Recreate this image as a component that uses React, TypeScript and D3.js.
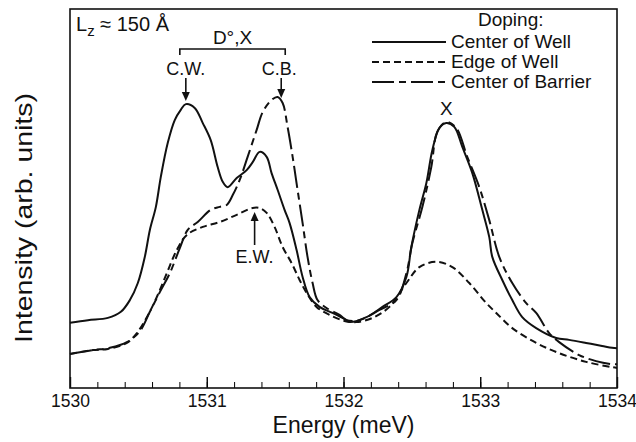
import React, { useEffect, useRef } from "react";
import * as d3 from "d3";

// energy (meV) and intensity (arb. units, 0-100)
const wellEnergy = [
  1530.0, 1530.131, 1530.277, 1530.372, 1530.438, 1530.496, 1530.547, 1530.584, 1530.628, 1530.664,
  1530.715, 1530.766, 1530.81, 1530.847, 1530.912, 1530.971, 1531.029, 1531.08, 1531.117, 1531.153,
  1531.219, 1531.292, 1531.336, 1531.387, 1531.438, 1531.474, 1531.518, 1531.569, 1531.606, 1531.657,
  1531.701, 1531.752, 1531.825, 1531.92, 1532.022, 1532.044, 1532.168, 1532.285, 1532.387, 1532.46,
  1532.496, 1532.555, 1532.606, 1532.65, 1532.701, 1532.752, 1532.81, 1532.869, 1532.942, 1533.015,
  1533.066, 1533.088, 1533.161, 1533.234, 1533.307, 1533.409, 1533.555, 1533.65, 1533.774, 1533.891,
  1533.964, 1534.0,
];
const wellIntensity = [
  17.2, 17.9, 18.5, 20.1, 23.2, 27.7, 34.6, 41.7, 47.8, 55.7,
  64.7, 70.7, 73.4, 74.9, 73.9, 69.9, 65.4, 58.3, 54.4, 53.0,
  55.4, 57.5, 59.6, 62.3, 61.0, 56.7, 52.3, 47.0, 43.5, 36.4,
  29.3, 24.0, 21.4, 19.8, 17.9, 17.4, 18.7, 21.4, 24.0, 29.3,
  37.2, 47.0, 54.1, 62.8, 68.6, 69.9, 68.9, 63.6, 56.7, 47.0,
  39.8, 34.6, 28.5, 23.2, 18.7, 15.8, 13.2, 12.7, 11.9, 11.1,
  10.6, 10.5,
];

const edgeEnergy = [
  1530.0, 1530.168, 1530.277, 1530.416, 1530.489, 1530.562, 1530.635, 1530.708, 1530.781, 1530.854,
  1530.971, 1531.095, 1531.219, 1531.336, 1531.387, 1531.438, 1531.496, 1531.555, 1531.62, 1531.679,
  1531.73, 1531.803, 1531.898, 1532.007, 1532.095, 1532.212, 1532.336, 1532.46, 1532.555, 1532.679,
  1532.796, 1532.92, 1533.044, 1533.117, 1533.234, 1533.409, 1533.577, 1533.774, 1533.964, 1534.0,
];
const edgeIntensity = [
  9.0, 10.0, 10.3, 11.9, 14.5, 18.7, 24.0, 30.3, 36.4, 40.4,
  42.5, 43.8, 45.7, 47.5, 47.5, 46.2, 42.5, 37.2, 33.0, 28.5,
  25.1, 21.4, 19.3, 17.7, 17.4, 18.5, 21.4, 27.7, 31.9, 33.3,
  31.9, 27.7, 22.4, 19.8, 15.8, 11.9, 9.2, 6.9, 5.5, 5.3,
];

const barrierEnergy = [
  1530.0, 1530.168, 1530.292, 1530.416, 1530.511, 1530.584, 1530.657, 1530.73, 1530.803, 1530.861,
  1530.934, 1531.029, 1531.095, 1531.146, 1531.19, 1531.241, 1531.299, 1531.365, 1531.409, 1531.474,
  1531.518, 1531.555, 1531.591, 1531.628, 1531.664, 1531.701, 1531.737, 1531.774, 1531.81, 1531.876,
  1531.971, 1532.022, 1532.117, 1532.263, 1532.387, 1532.46, 1532.504, 1532.577, 1532.642, 1532.686,
  1532.752, 1532.825, 1532.905, 1532.993, 1533.066, 1533.139, 1533.234, 1533.336, 1533.409, 1533.504,
  1533.577, 1533.723, 1533.847, 1533.964, 1534.0,
];
const barrierIntensity = [
  9.0, 10.0, 10.6, 12.1, 15.0, 20.1, 25.3, 30.3, 36.9, 41.7,
  43.8, 47.0, 47.8, 48.3, 50.9, 54.9, 61.0, 68.1, 72.8, 76.0,
  76.8, 75.2, 68.9, 61.0, 52.3, 43.5, 34.6, 27.7, 23.2, 21.1,
  19.3, 17.9, 17.9, 20.6, 23.2, 30.3, 38.3, 47.8, 58.3, 67.6,
  70.2, 68.6, 61.0, 53.0, 44.3, 34.6, 27.7, 22.4, 19.8, 14.5,
  12.1, 8.7, 7.1, 6.3, 6.3,
];

const legendLabels = ["Center of Well", "Edge of Well", "Center of Barrier"];
const majorTicks = [1530, 1531, 1532, 1533, 1534];

const W = 636;
const H = 442;
const margin = { top: 9, right: 19, bottom: 54, left: 70 };
const innerW = W - margin.left - margin.right;
const innerH = H - margin.top - margin.bottom;
const font = "'Liberation Sans', Arial, Helvetica, sans-serif";

const dashes = ["none", "7,4", "22,5,7,5"];

const App = () => {
  const axisRef = useRef<SVGGElement>(null);

  const x = d3.scaleLinear().domain([1530, 1534]).range([0, innerW]);
  const y = d3.scaleLinear().domain([0, 100]).range([innerH, 0]);

  const series = [
    wellEnergy.map((e, i) => [e, wellIntensity[i]]),
    edgeEnergy.map((e, i) => [e, edgeIntensity[i]]),
    barrierEnergy.map((e, i) => [e, barrierIntensity[i]]),
  ];

  const line = d3
    .line<number[]>()
    .x((d) => x(d[0]))
    .y((d) => y(d[1]))
    .curve(d3.curveCatmullRom.alpha(0.5));

  useEffect(() => {
    const g = d3.select(axisRef.current);
    g.selectAll("*").remove();

    // minor ticks every 0.2 meV, pointing inward
    g.append("g")
      .attr("transform", `translate(0,${innerH})`)
      .call(d3.axisBottom(x).tickValues(d3.range(1530, 1534.01, 0.2)).tickSize(-6).tickFormat(() => ""))
      .call((a) => a.select(".domain").remove());

    const major = g
      .append("g")
      .attr("transform", `translate(0,${innerH})`)
      .call(d3.axisBottom(x).tickValues(majorTicks).tickSize(-11).tickPadding(7).tickFormat(d3.format("d")));
    major.select(".domain").remove();
    major.selectAll("line").attr("stroke-width", 1.4);
    major
      .selectAll("text")
      .style("font-family", font)
      .style("font-size", "17.5px")
      .attr("fill", "#111");
  }, []);

  const CW = x(1530.847);
  const CB = x(1531.53);
  const EW = x(1531.35);
  const XP = x(1532.752);

  return (
    <svg width={W} height={H} style={{ position: "absolute", left: 0, top: 0, background: "#fff" }} fontFamily={font}>
      <g transform={`translate(${margin.left},${margin.top})`}>
        <g ref={axisRef} />
        <rect x={0} y={0} width={innerW} height={innerH} fill="none" stroke="#111" strokeWidth={1.6} />

        {series.map((s, i) => (
          <path
            key={i}
            d={line(s) || ""}
            fill="none"
            stroke="#111"
            strokeWidth={2}
            strokeDasharray={dashes[i]}
            strokeLinejoin="round"
          />
        ))}

        {/* thickness label */}
        <text x={6} y={22} fontSize={20} fill="#111">
          L<tspan fontSize={15} dy={5}>z</tspan>
          <tspan dy={-5}> ≈ 150 Å</tspan>
        </text>

        {/* D°,X bracket */}
        <text x={(CW + CB) / 2} y={35} fontSize={19} textAnchor="middle" fill="#111">D°,X</text>
        <path d={`M${CW - 6},46V40H${CB + 6}V46`} fill="none" stroke="#111" strokeWidth={1.6} />
        <text x={CW} y={66} fontSize={18} textAnchor="middle" fill="#111">C.W.</text>
        <text x={CB} y={66} fontSize={18} textAnchor="middle" fill="#111">C.B.</text>
        <line x1={CW} x2={CW} y1={69} y2={86} stroke="#111" strokeWidth={1.6} />
        <path d={`M${CW - 4},83L${CW},92L${CW + 4},83Z`} fill="#111" />
        <line x1={CB + 2} x2={CB + 2} y1={69} y2={83} stroke="#111" strokeWidth={1.6} />
        <path d={`M${CB - 2},80L${CB + 2},89L${CB + 6},80Z`} fill="#111" />

        {/* E.W. arrow */}
        <text x={EW} y={254} fontSize={18} textAnchor="middle" fill="#111">E.W.</text>
        <line x1={EW} x2={EW} y1={236} y2={210} stroke="#111" strokeWidth={1.6} />
        <path d={`M${EW - 4},212L${EW},203L${EW + 4},212Z`} fill="#111" />

        <text x={XP} y={106} fontSize={19} textAnchor="middle" fill="#111">X</text>

        {/* legend */}
        <text x={408} y={17} fontSize={19} fill="#111">Doping:</text>
        {legendLabels.map((lab, i) => (
          <g key={lab} transform={`translate(0,${33 + i * 20})`}>
            <line x1={302} x2={376} y1={0} y2={0} stroke="#111" strokeWidth={2} strokeDasharray={dashes[i]} />
            <text x={381} y={6} fontSize={19} fill="#111">{lab}</text>
          </g>
        ))}
      </g>

      <text x={margin.left + innerW / 2} y={433} fontSize={23} textAnchor="middle" fill="#111">
        Energy (meV)
      </text>
      <text
        transform="translate(32,218) rotate(-90)"
        fontSize={24}
        textAnchor="middle"
        textLength={250}
        lengthAdjust="spacingAndGlyphs"
        fill="#111"
      >
        Intensity (arb. units)
      </text>
    </svg>
  );
};

export default App;
